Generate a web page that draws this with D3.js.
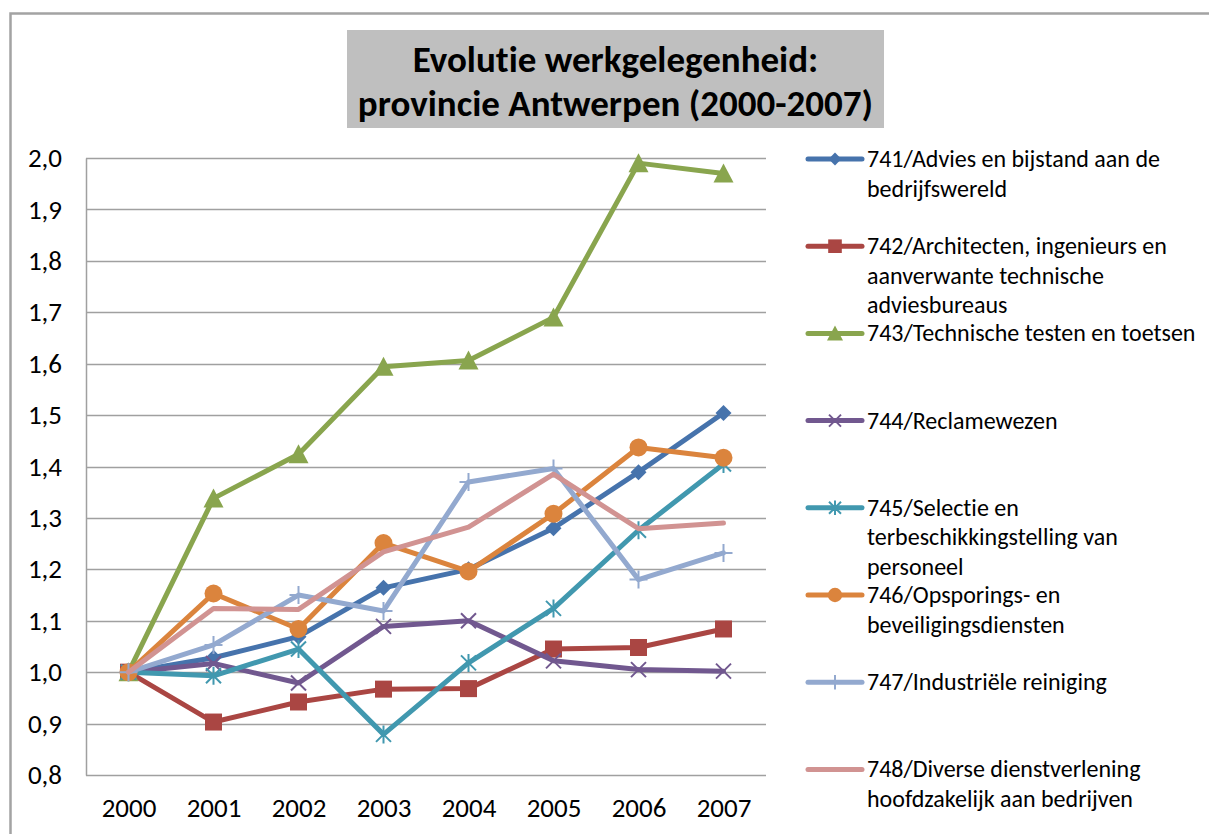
<!DOCTYPE html>
<html>
<head>
<meta charset="utf-8">
<script src="https://cdn.jsdelivr.net/npm/d3@7"></script>
<style>
  html, body { margin: 0; padding: 0; background: #fff; }
  svg { display: block; }
  text { font-family: Carlito, Lato, "Open Sans", sans-serif; fill: #000; font-variant-ligatures: none; font-feature-settings: "liga" 0, "clig" 0; }
</style>
</head>
<body>
<svg id="chart" width="1209" height="834"></svg>
<script>
// ---- data ----
const years = ["2000", "2001", "2002", "2003", "2004", "2005", "2006", "2007"];
const yTicks = [0.8, 0.9, 1.0, 1.1, 1.2, 1.3, 1.4, 1.5, 1.6, 1.7, 1.8, 1.9, 2.0];
const titleLines = ["Evolutie werkgelegenheid:", "provincie Antwerpen (2000-2007)"];

const s741 = [1.000, 1.028, 1.069, 1.164, 1.200, 1.280, 1.389, 1.504];
const s742 = [1.000, 0.903, 0.942, 0.967, 0.968, 1.045, 1.048, 1.084];
const s743 = [1.000, 1.338, 1.424, 1.594, 1.606, 1.690, 1.990, 1.970];
const s744 = [1.000, 1.017, 0.979, 1.089, 1.100, 1.022, 1.005, 1.002];
const s745 = [1.000, 0.993, 1.045, 0.879, 1.018, 1.124, 1.276, 1.405];
const s746 = [1.000, 1.153, 1.084, 1.251, 1.196, 1.308, 1.437, 1.417];
const s747 = [1.000, 1.053, 1.150, 1.119, 1.370, 1.396, 1.180, 1.232];
const s748 = [1.000, 1.124, 1.122, 1.234, 1.282, 1.385, 1.279, 1.290];

const seriesNames = [
  ["741/Advies en bijstand aan de", "bedrijfswereld"],
  ["742/Architecten, ingenieurs en", "aanverwante technische", "adviesbureaus"],
  ["743/Technische testen en toetsen"],
  ["744/Reclamewezen"],
  ["745/Selectie en", "terbeschikkingstelling van", "personeel"],
  ["746/Opsporings- en", "beveiligingsdiensten"],
  ["747/Industriële reiniging"],
  ["748/Diverse dienstverlening", "hoofdzakelijk aan bedrijven"]
];
const seriesValues = [s741, s742, s743, s744, s745, s746, s747, s748];
const seriesColors = ["#4673AC", "#AA4643", "#89A54E", "#71588F", "#4198AF", "#DB843D", "#93A9CF", "#D19392"];
const seriesMarkers = ["diamond", "square", "triangle", "x", "asterisk", "circle", "plus", "none"];

// ---- layout ----
const svg = d3.select("#chart");
const W = 1209, H = 834;
const plot = { left: 86, right: 766, top: 158, bottom: 775 };

const x = d3.scalePoint().domain(years).range([plot.left, plot.right]).padding(0.5);
const y = d3.scaleLinear().domain([0.8, 2.0]).range([plot.bottom, plot.top]);

// outer frame (partial, as in the cropped reference)
svg.append("path")
  .attr("d", `M10.5,${H} V13.5 H${W}`)
  .attr("fill", "none").attr("stroke", "#a3a3a3").attr("stroke-width", 2.5);

// title box
const titleBox = { x: 347, y: 30, w: 537, h: 98 };
svg.append("rect")
  .attr("x", titleBox.x).attr("y", titleBox.y)
  .attr("width", titleBox.w).attr("height", titleBox.h)
  .attr("fill", "#bfbfbf");
svg.append("g").selectAll("text").data(titleLines).join("text")
  .attr("x", titleBox.x + titleBox.w / 2)
  .attr("y", (d, i) => 72 + i * 44)
  .attr("text-anchor", "middle")
  .attr("font-size", 37).attr("font-weight", "bold")
  .text(d => d);

// gridlines
const grid = svg.append("g");
grid.selectAll("line").data(yTicks).join("line")
  .attr("x1", plot.left).attr("x2", plot.right)
  .attr("y1", d => Math.round(y(d)) + 0.5).attr("y2", d => Math.round(y(d)) + 0.5)
  .attr("stroke", "#a0a0a0").attr("stroke-width", 1.5);

// y axis
const yAxis = svg.append("g").attr("transform", `translate(${plot.left},0)`)
  .call(d3.axisLeft(y).tickValues(yTicks).tickSize(0).tickPadding(24)
    .tickFormat(d => d3.format(".1f")(d).replace(".", ",")));
yAxis.select(".domain").attr("stroke", "#a0a0a0").attr("stroke-width", 1.5);
yAxis.selectAll("text").attr("font-size", 27).attr("fill", "#000");

// x axis
const xAxis = svg.append("g").attr("transform", `translate(0,${plot.bottom})`)
  .call(d3.axisBottom(x).tickSize(0).tickPadding(23));
xAxis.select(".domain").remove();
xAxis.selectAll("text").attr("font-size", 27).attr("fill", "#000");

// ---- markers ----
function drawMarker(g, type, cx, cy, color, s) {
  switch (type) {
    case "diamond": {
      const r = 8 * s;
      g.append("path").attr("d", `M${cx},${cy - r} L${cx + r},${cy} L${cx},${cy + r} L${cx - r},${cy} Z`).attr("fill", color);
      break;
    }
    case "square": {
      const r = 8.5 * s;
      g.append("rect").attr("x", cx - r).attr("y", cy - r).attr("width", 2 * r).attr("height", 2 * r).attr("fill", color);
      break;
    }
    case "triangle": {
      const r = 10 * s;
      g.append("path").attr("d", `M${cx},${cy - r} L${cx + r},${cy + r * 0.9} L${cx - r},${cy + r * 0.9} Z`).attr("fill", color);
      break;
    }
    case "circle": {
      g.append("circle").attr("cx", cx).attr("cy", cy).attr("r", 9 * s).attr("fill", color);
      break;
    }
    case "x": {
      const r = 7.5 * s;
      g.append("path").attr("d", `M${cx - r},${cy - r} L${cx + r},${cy + r} M${cx - r},${cy + r} L${cx + r},${cy - r}`)
        .attr("stroke", color).attr("stroke-width", 2).attr("fill", "none");
      break;
    }
    case "asterisk": {
      const r = 7.5 * s;
      g.append("path").attr("d", `M${cx - r},${cy - r} L${cx + r},${cy + r} M${cx - r},${cy + r} L${cx + r},${cy - r} M${cx},${cy - r * 1.2} L${cx},${cy + r * 1.2}`)
        .attr("stroke", color).attr("stroke-width", 2).attr("fill", "none");
      break;
    }
    case "plus": {
      const r = 9 * s;
      g.append("path").attr("d", `M${cx - r},${cy} L${cx + r},${cy} M${cx},${cy - r} L${cx},${cy + r}`)
        .attr("stroke", color).attr("stroke-width", 2).attr("fill", "none");
      break;
    }
    default: break;
  }
}

// ---- series ----
const line = d3.line().x((d, i) => x(years[i])).y(d => y(d));
const seriesG = svg.append("g");
seriesValues.forEach((vals, si) => {
  const g = seriesG.append("g");
  g.append("path").datum(vals).attr("d", line)
    .attr("fill", "none").attr("stroke", seriesColors[si])
    .attr("stroke-width", 5).attr("stroke-linejoin", "round").attr("stroke-linecap", "round");
  vals.forEach((v, i) => drawMarker(g, seriesMarkers[si], x(years[i]), y(v), seriesColors[si], 1));
});

// ---- legend ----
const legend = { x1: 808, x2: 862, textX: 867, top: 159, step: 87.2, lineH: 29.5 };
const lg = svg.append("g");
seriesNames.forEach((lines, si) => {
  const cy = legend.top + si * legend.step;
  const g = lg.append("g");
  g.append("line").attr("x1", legend.x1).attr("x2", legend.x2).attr("y1", cy).attr("y2", cy)
    .attr("stroke", seriesColors[si]).attr("stroke-width", 5).attr("stroke-linecap", "round");
  drawMarker(g, seriesMarkers[si], (legend.x1 + legend.x2) / 2, cy, seriesColors[si], 0.8);
  g.selectAll("text").data(lines).join("text")
    .attr("x", legend.textX).attr("y", (d, i) => cy + 8 + i * legend.lineH)
    .attr("font-size", 24)
    .text(d => d);
});
</script>
</body>
</html>
